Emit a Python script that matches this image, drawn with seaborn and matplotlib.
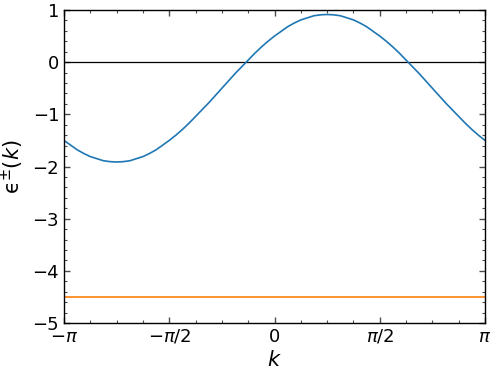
"""
Band dispersion plot: epsilon^{+/-}(k) over the Brillouin zone.
"""

import matplotlib
matplotlib.use("Agg")
import matplotlib.pyplot as plt
from matplotlib.ticker import MultipleLocator
import seaborn as sns
import numpy as np
import pandas as pd

sns.set_style("ticks")
plt.rcParams['font.family'] = ['DejaVu Sans']
plt.rcParams['mathtext.fontset'] = 'dejavusans'
plt.rcParams['text.color'] = 'black'
plt.rcParams['axes.labelcolor'] = 'black'
plt.rcParams['xtick.labelcolor'] = 'black'
plt.rcParams['ytick.labelcolor'] = 'black'

# k sampled every pi/32 from -pi to pi
k_steps = list(range(-32, 33))
upper_band = [-1.50, -1.59, -1.68, -1.75, -1.81, -1.85, -1.89, -1.907,
              -1.914, -1.907, -1.89, -1.85, -1.81, -1.75, -1.68, -1.59,
              -1.50, -1.40, -1.29, -1.17, -1.04, -0.91, -0.78, -0.64,
              -0.50, -0.36, -0.22, -0.09, 0.04, 0.17, 0.29, 0.40,
              0.50, 0.59, 0.68, 0.75, 0.81, 0.85, 0.89, 0.907,
              0.914, 0.907, 0.89, 0.85, 0.81, 0.75, 0.68, 0.59,
              0.50, 0.40, 0.29, 0.17, 0.04, -0.09, -0.22, -0.36,
              -0.50, -0.64, -0.78, -0.91, -1.04, -1.17, -1.29, -1.40, -1.50]
lower_band = [-4.5] * len(k_steps)

x_tick_vals = [-np.pi, -np.pi / 2, 0, np.pi / 2, np.pi]
x_tick_labels = [r'$-\pi$', r'$-\pi/2$', '0', r'$\pi/2$', r'$\pi$']
y_tick_vals = [-5, -4, -3, -2, -1, 0, 1]
y_tick_labels = ['\u22125', '\u22124', '\u22123', '\u22122', '\u22121', '0', '1']

k = np.array(k_steps) * np.pi / 32
df = pd.DataFrame({'k': k, 'upper': upper_band, 'lower': lower_band})

fig = plt.figure(figsize=(4.94, 3.77), dpi=100)
ax = fig.add_axes([0.1296, 0.1432, 0.8522, 0.8303])

ax.axhline(0, color='black', linewidth=0.9, zorder=1)
sns.lineplot(data=df, x='k', y='upper', ax=ax, color='#1f77b4', linewidth=1.2)
sns.lineplot(data=df, x='k', y='lower', ax=ax, color='#ff7f0e', linewidth=1.2)

ax.set_xlim(-np.pi, np.pi)
ax.set_ylim(-5, 1)
ax.set_xticks(x_tick_vals)
ax.set_xticklabels(x_tick_labels)
ax.set_yticks(y_tick_vals)
ax.set_yticklabels(y_tick_labels)
ax.xaxis.set_minor_locator(MultipleLocator(np.pi / 8))
ax.yaxis.set_minor_locator(MultipleLocator(0.2))

ax.tick_params(which='both', direction='in', top=True, right=True,
               labelsize=13, color='0.3')
ax.tick_params(which='major', length=4.5, width=1)
ax.tick_params(which='minor', length=2.5, width=0.8)

for spine in ax.spines.values():
    spine.set_color('black')
    spine.set_linewidth(1)

ax.set_xlabel(r'$k$', fontsize=15, labelpad=3)
ax.set_ylabel('\u03f5' + r'$^{\pm}(k)$', fontsize=15, labelpad=5)

fig.savefig('out.png', dpi=100)
